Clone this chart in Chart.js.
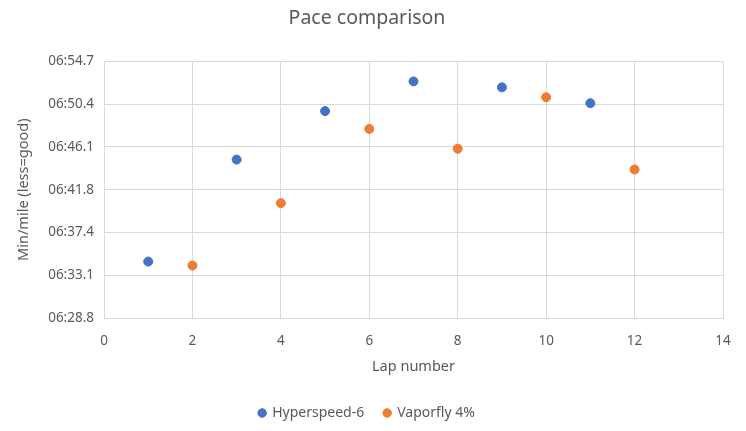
<!DOCTYPE html>
<html>
<head>
<meta charset="utf-8">
<script src="https://cdn.jsdelivr.net/npm/chart.js@4/dist/chart.umd.min.js"></script>
<style>
  html, body { margin: 0; padding: 0; background: #fff; }
  #wrap { width: 746px; height: 431px; }
</style>
</head>
<body>
<div id="wrap"><canvas id="chart"></canvas></div>
<script>
// pace data, y in seconds per mile
const hyperLaps = [1, 3, 5, 7, 9, 11];
const hyperPace = [394.5, 404.8, 409.7, 412.7, 412.1, 410.5];
const vaporLaps = [2, 4, 6, 8, 10, 12];
const vaporPace = [394.1, 400.4, 407.9, 405.9, 411.1, 403.8];
const yTicks = [388.8, 393.12, 397.44, 401.76, 406.08, 410.4, 414.72];

const grey = '#595959';
const font = 'Noto Sans, Open Sans, sans-serif';

function fmtPace(v) {
  const m = Math.floor(v / 60);
  const s = v - m * 60;
  let ss = s.toFixed(1);
  if (s < 10) ss = '0' + ss;
  return '0' + m + ':' + ss;
}

const pts = (xs, ys) => xs.map((x, i) => ({ x: x, y: ys[i] }));

new Chart(document.getElementById('chart'), {
  type: 'scatter',
  data: {
    datasets: [{
      label: 'Hyperspeed-6',
      data: pts(hyperLaps, hyperPace),
      backgroundColor: '#4472C4',
      borderColor: '#4472C4',
      pointRadius: 4.5
    }, {
      label: 'Vaporfly 4%',
      data: pts(vaporLaps, vaporPace),
      backgroundColor: '#ED7D31',
      borderColor: '#ED7D31',
      pointRadius: 4.5
    }]
  },
  options: {
    responsive: true,
    maintainAspectRatio: false,
    animation: false,
    layout: { padding: { left: 11, right: 23, top: 0, bottom: 1 } },
    plugins: {
      title: {
        display: true,
        text: 'Pace comparison',
        color: grey,
        font: { family: font, size: 19.5, weight: 'normal' },
        padding: { top: 7, bottom: 31 }
      },
      legend: {
        position: 'bottom',
        labels: {
          color: grey,
          usePointStyle: true,
          pointStyle: 'circle',
          boxWidth: 6,
          boxHeight: 6,
          padding: 20,
          font: { family: font, size: 14 }
        }
      },
      tooltip: { enabled: false }
    },
    scales: {
      x: {
        type: 'linear',
        min: 0, max: 14,
        ticks: { stepSize: 2, color: grey, font: { family: font, size: 13.5 }, padding: 15 },
        grid: { color: '#D9D9D9', drawTicks: false },
        border: { color: '#D9D9D9' },
        title: { display: true, text: 'Lap number', color: grey, font: { family: font, size: 14.5 }, padding: { top: 2, bottom: 10 } },
        afterFit: s => { s.height = 68; }
      },
      y: {
        min: yTicks[0], max: yTicks[yTicks.length - 1],
        afterBuildTicks: s => { s.ticks = yTicks.map(v => ({ value: v })); },
        ticks: { color: grey, font: { family: font, size: 13.5 }, padding: 10, callback: v => fmtPace(v) },
        grid: { color: '#D9D9D9', drawTicks: false },
        border: { color: '#D9D9D9' },
        title: { display: true, text: 'Min/mile (less=good)', color: grey, font: { family: font, size: 14.5 } },
        afterFit: s => { s.width = 93; }
      }
    }
  }
});
</script>
</body>
</html>
